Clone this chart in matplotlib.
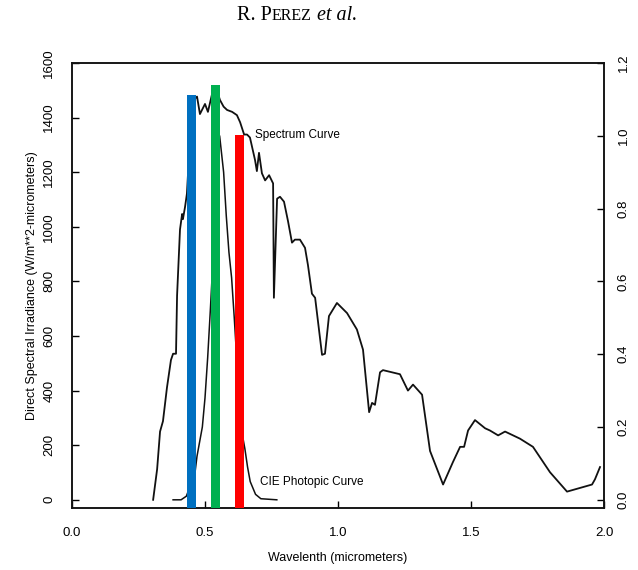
import matplotlib
matplotlib.use("Agg")
import matplotlib.pyplot as plt
from matplotlib.offsetbox import TextArea, HPacker, AnnotationBbox

# ---- data ----
spec_wl = [0.305, 0.320, 0.331, 0.342, 0.357, 0.372, 0.380, 0.391, 0.395, 0.406,
           0.414, 0.417, 0.425, 0.432, 0.451, 0.470, 0.481, 0.500, 0.511, 0.526,
           0.541, 0.556, 0.570, 0.583, 0.602, 0.620, 0.632, 0.647, 0.658, 0.669,
           0.688, 0.695, 0.703, 0.714, 0.726, 0.741, 0.756, 0.759, 0.771, 0.782,
           0.797, 0.812, 0.827, 0.838, 0.857, 0.876, 0.887, 0.902, 0.914, 0.940,
           0.951, 0.966, 0.996, 1.034, 1.071, 1.094, 1.117, 1.128, 1.139, 1.158,
           1.169, 1.233, 1.263, 1.282, 1.316, 1.346, 1.395, 1.432, 1.459, 1.474,
           1.489, 1.515, 1.553, 1.571, 1.602, 1.628, 1.684, 1.733, 1.797, 1.861,
           1.955, 1.966, 1.985]
spec_irr = [0, 112, 250, 288, 411, 512, 535, 535, 748, 990,
            1047, 1028, 1073, 1121, 1458, 1477, 1413, 1450, 1421, 1484,
            1514, 1465, 1440, 1428, 1421, 1409, 1383, 1338, 1338, 1327,
            1245, 1204, 1271, 1196, 1170, 1189, 1159, 740, 1103, 1110,
            1092, 1021, 942, 953, 953, 923, 860, 755, 740, 531,
            535, 673, 721, 684, 624, 550, 321, 355, 348, 467,
            475, 460, 400, 422, 385, 179, 56, 138, 194, 194,
            254, 292, 262, 254, 236, 250, 224, 194, 101, 30,
            56, 75, 120]

cie_wl = [0.38, 0.41, 0.43, 0.44, 0.46, 0.47, 0.49, 0.50, 0.51, 0.52, 0.53, 0.54,
          0.555, 0.57, 0.58, 0.59, 0.60, 0.61, 0.62, 0.63, 0.64, 0.65, 0.66, 0.67,
          0.69, 0.71, 0.77]
cie_val = [0.0, 0.0, 0.01, 0.03, 0.06, 0.12, 0.20, 0.28, 0.39, 0.52, 0.66, 0.85,
           1.0, 0.90, 0.78, 0.68, 0.61, 0.50, 0.38, 0.27, 0.18, 0.14, 0.09, 0.05,
           0.015, 0.003, 0.0]

bar_wl = [0.45, 0.54, 0.63]
bar_irr = [1484, 1518, 1338]
bar_colors = ["#0070C0", "#00B050", "#FF0000"]

x_ticks = [0.0, 0.5, 1.0, 1.5, 2.0]
x_ticklabels = ["0.0", "0.5", "1.0", "1.5", "2.0"]
y_ticks = [0, 200, 400, 600, 800, 1000, 1200, 1400, 1600]
y2_ticks = [0.0, 0.2, 0.4, 0.6, 0.8, 1.0, 1.2]
y2_ticklabels = ["0.0", "0.2", "0.4", "0.6", "0.8", "1.0", "1.2"]

# ---- figure ----
plt.rcParams['font.family'] = ['Liberation Sans', 'DejaVu Sans']
fig = plt.figure(figsize=(6.38, 5.70), dpi=100)
ax = fig.add_axes([72/638, 1 - 508/570, (604-72)/638, (508-63)/570])

YMIN, YMAX = -30, 1600
ax.set_xlim(0.0, 2.0)
ax.set_ylim(YMIN, YMAX)

# spectrum curve
ax.plot(spec_wl, spec_irr, color="#111111", lw=1.3, zorder=3)

# CIE curve on right scale
ax2 = ax.twinx()
ax2.set_ylim(YMIN / (YMAX / 1.2), 1.2)
ax2.plot(cie_wl, cie_val, color="#111111", lw=1.1, zorder=3)

# bars (on top)
ax3 = ax.twinx()
ax3.set_ylim(YMIN, YMAX)
ax3.axis("off")
ax3.bar(bar_wl, [h - YMIN for h in bar_irr], bottom=YMIN, width=0.034,
        color=bar_colors, zorder=5)

# labels on curves
ax3.text(0.688, 1338, "Spectrum Curve", fontsize=8.5, va="center", ha="left", zorder=6)
ax3.text(0.707, 67, "CIE Photopic Curve", fontsize=8.5, va="center", ha="left", zorder=6)

# ticks
ax.set_xticks(x_ticks)
ax.set_xticklabels(x_ticklabels)
ax.set_yticks(y_ticks)
ax2.set_yticks(y2_ticks)
ax2.set_yticklabels(y2_ticklabels)

ax.tick_params(axis="x", direction="in", length=5, width=1, pad=14, labelsize=9.5)
ax.tick_params(axis="y", direction="in", length=5, width=1, pad=12, labelsize=9.5,
               labelrotation=90)
ax2.tick_params(axis="y", direction="in", length=5, width=1, pad=10, labelsize=9.5,
                labelrotation=90)
for lab in ax.get_yticklabels():
    lab.set_verticalalignment("center")
for lab in ax2.get_yticklabels():
    lab.set_verticalalignment("center")

for a in (ax, ax2):
    for s in a.spines.values():
        s.set_linewidth(1.1)
        s.set_color("#111111")

ax.set_xlabel("Wavelenth (micrometers)", fontsize=9, labelpad=9)
ax.set_ylabel("Direct Spectral Irradiance (W/m**2-micrometers)", fontsize=9, labelpad=4)

# header "R. PEREZ et al." with small caps
serif = ['Liberation Serif', 'DejaVu Serif']
parts = [
    TextArea("R. P", textprops=dict(fontsize=14.5, family=serif)),
    TextArea("EREZ", textprops=dict(fontsize=11.5, family=serif)),
    TextArea(" et al.", textprops=dict(fontsize=14.5, family=serif, style="italic")),
]
box = HPacker(children=parts, align="baseline", pad=0, sep=0)
ab = AnnotationBbox(box, (297/638, 1 - 16/570), xycoords="figure fraction",
                    frameon=False, box_alignment=(0.5, 0.5))
fig.add_artist(ab)

fig.savefig("out.png", dpi=100)
